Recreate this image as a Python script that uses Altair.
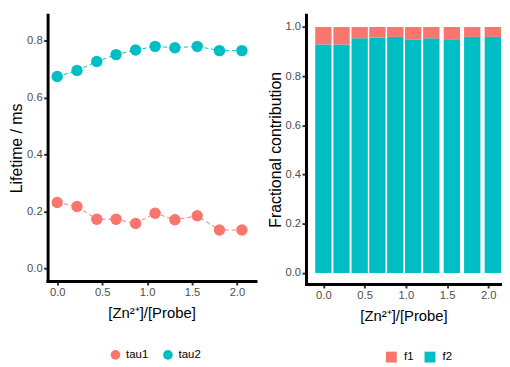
import altair as alt
import pandas as pd

RED = "#F8766D"
TEAL = "#00BFC4"

ratio = [0.0, 0.22, 0.44, 0.655, 0.872, 1.089, 1.309, 1.558, 1.805, 2.055]
tau1 = [0.232, 0.218, 0.173, 0.173, 0.158, 0.194, 0.171, 0.185, 0.135, 0.135]
tau2 = [0.674, 0.695, 0.727, 0.751, 0.767, 0.780, 0.775, 0.780, 0.765, 0.765]
f1 = [0.071, 0.071, 0.046, 0.043, 0.040, 0.052, 0.046, 0.050, 0.040, 0.040]
f2 = [0.929, 0.929, 0.954, 0.957, 0.960, 0.948, 0.954, 0.950, 0.960, 0.960]
x_ticks = [0.0, 0.5, 1.0, 1.5, 2.0]
y1_ticks = [0.0, 0.2, 0.4, 0.6, 0.8]
y2_ticks = [0.0, 0.2, 0.4, 0.6, 0.8, 1.0]
xtitle = "[Zn²⁺]/[Probe]"

df1 = pd.DataFrame({
    "x": ratio + ratio,
    "y": tau1 + tau2,
    "s": ["tau1"] * len(ratio) + ["tau2"] * len(ratio),
})
df2 = pd.DataFrame({
    "x": ratio + ratio,
    "v": f2 + f1,
    "s": ["f2"] * len(ratio) + ["f1"] * len(ratio),
    "o": [0] * len(ratio) + [1] * len(ratio),
})

x1 = alt.X("x:Q", scale=alt.Scale(domain=[-0.107, 2.206], nice=False, zero=False),
           axis=alt.Axis(values=x_ticks, format=".1f", title=xtitle))
y1 = alt.Y("y:Q", scale=alt.Scale(domain=[-0.044, 0.891], nice=False, zero=False),
           axis=alt.Axis(values=y1_ticks, format=".1f", title="Lifetime / ms"))
cscale1 = alt.Scale(domain=["tau1", "tau2"], range=[RED, TEAL])
leg1 = alt.Legend(title=None, orient="none", direction="horizontal",
                  legendX=62.8, legendY=337.5, symbolType="circle", symbolSize=95,
                  labelOffset=5, columnPadding=14, padding=0)

lines = alt.Chart(df1).mark_line(strokeDash=[4, 3], strokeWidth=1).encode(
    x=x1, y=y1, color=alt.Color("s:N", scale=cscale1, legend=leg1))
pts = alt.Chart(df1).mark_circle(size=133, opacity=1).encode(
    x=x1, y=y1, color=alt.Color("s:N", scale=cscale1, legend=leg1))
left = (lines + pts).properties(width=210, height=269)

right = alt.Chart(df2).transform_stack(
    stack="v", groupby=["x"], as_=["lo", "hi"], sort=[alt.SortField("o", order="ascending")]
).transform_calculate(
    xa="datum.x - 0.099", xb="datum.x + 0.099"
).mark_bar().encode(
    x=alt.X("xa:Q", scale=alt.Scale(domain=[-0.211, 2.154], nice=False, zero=False),
            axis=alt.Axis(values=x_ticks, format=".1f", title=xtitle)),
    x2="xb:Q",
    y=alt.Y("lo:Q", scale=alt.Scale(domain=[-0.045, 1.05], nice=False, zero=False),
            axis=alt.Axis(values=y2_ticks, format=".1f", title="Fractional contribution")),
    y2="hi:Q",
    color=alt.Color("s:N", scale=alt.Scale(domain=["f1", "f2"], range=[RED, TEAL]),
                    legend=alt.Legend(title=None, orient="none", direction="horizontal",
                                      legendX=80.5, legendY=339.7, symbolType="square",
                                      symbolSize=121, labelOffset=7, columnPadding=10,
                                      padding=0)),
).properties(width=197, height=272)

chart = alt.hconcat(left, right, spacing=11).resolve_scale(color="independent").properties(
    padding={"left": 0, "top": 5, "right": 0, "bottom": 0}
).configure(font="Liberation Sans").configure_view(stroke=None).configure_axis(
    grid=False, domainColor="black", domainWidth=3, domainCap="square",
    tickColor="#333333", tickWidth=2, tickSize=4,
    labelColor="#4D4D4D", labelFontSize=11.3, labelPadding=1.5,
    titleFontWeight="normal", titleColor="black", titlePadding=2,
).configure_axisX(titleFontSize=15, titlePadding=8).configure_axisY(titleFontSize=16).configure_legend(
    labelFontSize=11.5, labelColor="black", symbolStrokeWidth=0, symbolOpacity=1,
)

chart.save("out.html", embed_options={"renderer": "svg", "actions": False})
